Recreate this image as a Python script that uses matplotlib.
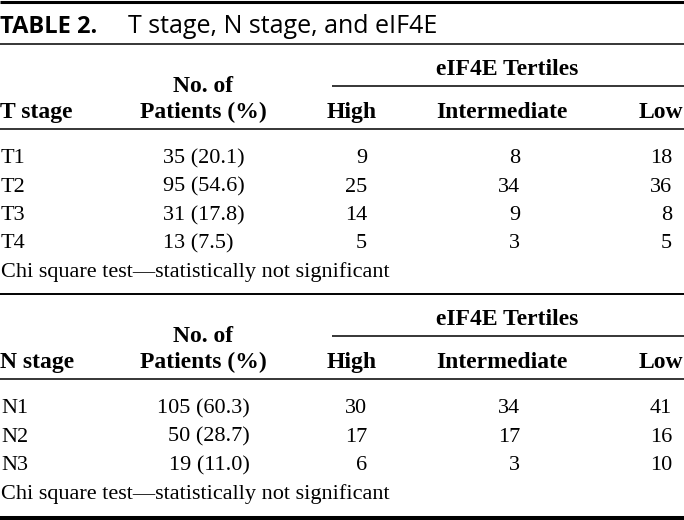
import matplotlib
matplotlib.use("Agg")
import matplotlib.pyplot as plt

# table data
t_stages = ["T1", "T2", "T3", "T4"]
t_n = [35, 95, 31, 13]
t_pct = [20.1, 54.6, 17.8, 7.5]
t_high = [9, 25, 14, 5]
t_inter = [8, 34, 9, 3]
t_low = [18, 36, 8, 5]

n_stages = ["N1", "N2", "N3"]
n_n = [105, 50, 19]
n_pct = [60.3, 28.7, 11.0]
n_high = [30, 17, 6]
n_inter = [34, 17, 3]
n_low = [41, 16, 10]

footnote = "Chi square test\u2014statistically not significant"

SERIF = "Liberation Serif"
FS = 16      # body
FSH = 17     # bold header
ROW = 28.5


def hline(ax, y, x0=0, x1=684, lw=1.1):
    ax.plot([x0, x1], [y, y], color="black", lw=lw, solid_capstyle="butt")


def txt(ax, x, y, s, ha="left", bold=False):
    ax.text(x, y, s, fontfamily=SERIF, fontweight="bold" if bold else "normal",
            fontsize=FSH if bold else FS, ha=ha, va="baseline")


def section(ax, top, label, stages, counts, pcts, high, inter, low, pat_align):
    # header block
    txt(ax, 507, top + 31, "eIF4E Tertiles", "center", True)
    hline(ax, top + 42, 332, 684)
    txt(ax, 203, top + 48, "No. of", "center", True)
    txt(ax, 0, top + 74, label, "left", True)
    txt(ax, 203, top + 74, "Patients (%)", "center", True)
    txt(ax, 352, top + 74, "High", "center", True)
    txt(ax, 502, top + 74, "Intermediate", "center", True)
    txt(ax, 683, top + 74, "Low", "right", True)
    hline(ax, top + 85)
    # body rows
    y = top + 119
    for i in range(len(stages)):
        txt(ax, 1, y, stages[i])
        pat = "%d (%.1f)" % (counts[i], pcts[i])
        if pat_align == "left":
            txt(ax, 163, y, pat)
        else:
            txt(ax, 250, y, pat, "right")
        txt(ax, 367, y, str(high[i]), "right")
        txt(ax, 520, y, str(inter[i]), "right")
        txt(ax, 672, y, str(low[i]), "right")
        y += ROW
    txt(ax, 1, y, footnote)
    return y


fig = plt.figure(figsize=(6.84, 5.2), dpi=100)
ax = fig.add_axes([0, 0, 1, 1])
ax.set_xlim(0, 684)
ax.set_ylim(520, 0)
ax.axis("off")

hline(ax, 1.5, lw=2.2)
ax.text(0, 33, "TABLE 2.", fontfamily="Open Sans", fontweight="bold",
        fontsize=17, ha="left", va="baseline")
ax.text(128, 33, "T stage, N stage, and eIF4E", fontfamily="Open Sans",
        fontsize=18, ha="left", va="baseline")
hline(ax, 44)

section(ax, 44, "T stage", t_stages, t_n, t_pct, t_high, t_inter, t_low, "left")
hline(ax, 294, lw=1.4)
section(ax, 294, "N stage", n_stages, n_n, n_pct, n_high, n_inter, n_low, "right")
hline(ax, 518, lw=2.9)

fig.savefig("out.png", dpi=100)
